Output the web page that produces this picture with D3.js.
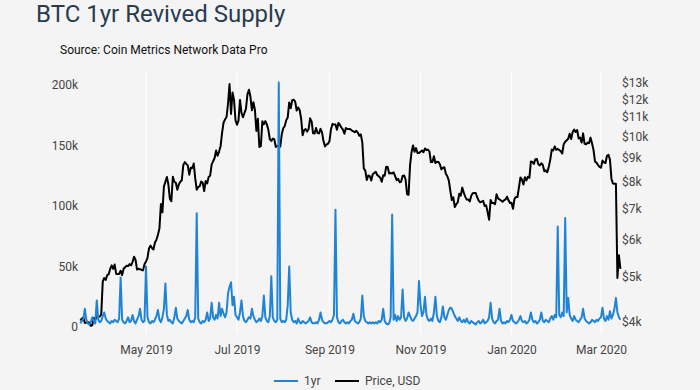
<!DOCTYPE html>
<html>
<head>
<meta charset="utf-8">
<script src="https://cdn.jsdelivr.net/npm/d3@7"></script>
<style>
  html, body { margin: 0; padding: 0; background: #f4f4f4; }
  svg { display: block; font-family: Roboto, "Noto Sans", sans-serif; }
</style>
</head>
<body>
<svg id="chart" width="700" height="390"></svg>
<script>
// ---------------- DATA ----------------
const startDate = "2019-03-18"; // first daily observation
const titleText = "BTC 1yr Revived Supply";
const sourceText = "Source: Coin Metrics Network Data Pro";
const seriesNames = ["1yr", "Price, USD"];

// daily BTC price (USD)
const priceMar19 = [4030, 4070, 4090, 3980, 3990, 3995, 3990, 3925, 3940, 4080, 4050, 4110, 4105, 4110];
const priceApr19 = [4150, 4880, 4970, 4920, 5040, 5060, 5200, 5290, 5200, 5310, 5070, 5070, 5070, 5150, 5040, 5200, 5240, 5280, 5270, 5320, 5290, 5380, 5520, 5430, 5180, 5200, 5190, 5170, 5160, 5320];
const priceMay19 = [5390, 5490, 5750, 5830, 5760, 5720, 5920, 6000, 6150, 6340, 7160, 6870, 7800, 7990, 8180, 7880, 7340, 7260, 8190, 7990, 7950, 7680, 7880, 7990, 8050, 8670, 8800, 8720, 8660, 8270, 8560];
const priceJun19 = [8550, 8740, 8120, 7680, 7790, 7810, 8000, 7950, 7630, 8020, 7920, 8180, 8230, 8690, 8840, 8980, 9320, 9080, 9270, 9520, 10160, 10700, 10860, 11000, 11750, 12930, 11160, 12410, 11960, 10820];
const priceJul19 = [10580, 10800, 11960, 11220, 10980, 11210, 11450, 12290, 12570, 12160, 11360, 11820, 11390, 10260, 10900, 9480, 9530, 10770, 10600, 10770, 10600, 10330, 9850, 9770, 9880, 9850, 9480, 9530, 9530, 9500, 10090];
const priceAug19 = [10400, 10520, 10820, 10970, 11810, 11480, 11940, 11970, 11860, 11350, 11520, 11380, 10900, 10050, 10310, 10360, 10230, 10350, 10920, 10760, 10140, 10130, 10410, 10160, 10140, 10370, 10190, 9750, 9510, 9600, 9630];
const priceSep19 = [9760, 10350, 10620, 10590, 10590, 10320, 10680, 10570, 10440, 10330, 10120, 10410, 10360, 10360, 10350, 10280, 10240, 10200, 10270, 10180, 10020, 10090, 9700, 8530, 8440, 8060, 8240, 8210, 8040, 8290];
const priceOct19 = [8340, 8390, 8260, 8210, 8150, 7990, 8250, 8230, 8600, 8590, 8320, 8340, 8320, 8370, 8210, 8050, 8100, 7970, 7990, 8220, 8240, 8080, 7510, 7490, 8660, 9240, 9550, 9260, 9430, 9210, 9200];
const priceNov19 = [9260, 9320, 9240, 9410, 9340, 9360, 9270, 8800, 8810, 9060, 8760, 8820, 8810, 8710, 8490, 8550, 8580, 8310, 8210, 8030, 7640, 7300, 7400, 7050, 7150, 7220, 7530, 7460, 7760, 7570];
const priceDec19 = [7420, 7320, 7320, 7250, 7450, 7550, 7560, 7560, 7400, 7280, 7220, 7240, 7270, 7090, 7110, 6880, 6620, 7300, 7190, 7190, 7150, 7510, 7360, 7320, 7280, 7240, 7290, 7320, 7420, 7290, 7190];
const priceJan20 = [7200, 6990, 7340, 7410, 7410, 7770, 8160, 8080, 7880, 8170, 8040, 8190, 8140, 8830, 8810, 8720, 8930, 8940, 8710, 8660, 8750, 8680, 8410, 8450, 8370, 8600, 8910, 9360, 9320, 9510, 9350];
const priceFeb20 = [9390, 9340, 9290, 9180, 9610, 9730, 9800, 9870, 10120, 9860, 10210, 10330, 10210, 10310, 9890, 9930, 9690, 10140, 9630, 9610, 9690, 9660, 9930, 9650, 9340, 8820, 8780, 8670, 8600];
const priceMar20 = [8560, 8870, 8790, 8760, 9080, 9120, 8910, 8110, 7920, 7910, 7910, 4970, 5560, 5200];

// daily 1yr revived supply (BTC)
const revMar19 = [3000, 5000, 7000, 15000, 6000, 3000, 2000, 4000, 8000, 5000, 3000, 22000, 6000, 4000];
const revApr19 = [5000, 9000, 12000, 7000, 5000, 4000, 3000, 5000, 4000, 6000, 5000, 4000, 7000, 41000, 6000, 4000, 3000, 5000, 8000, 4000, 5000, 10000, 5000, 3000, 6000, 9000, 15000, 6000, 4000, 5000];
const revMay19 = [50000, 8000, 4000, 3000, 5000, 4000, 6000, 9000, 14000, 6000, 4000, 8000, 15000, 36000, 10000, 5000, 6000, 4000, 3000, 8000, 16000, 7000, 5000, 4000, 3000, 5000, 7000, 9000, 14000, 6000, 4000];
const revJun19 = [5000, 4000, 8000, 94000, 7000, 4000, 3000, 5000, 4000, 6000, 12000, 5000, 7000, 20000, 8000, 6000, 10000, 7000, 20000, 9000, 15000, 11000, 8000, 12000, 28000, 33000, 37000, 18000, 25000, 10000];
const revJul19 = [8000, 6000, 12000, 22000, 9000, 5000, 4000, 6000, 8000, 7000, 15000, 9000, 6000, 4000, 5000, 7000, 5000, 9000, 26000, 8000, 5000, 4000, 9000, 42000, 8000, 5000, 4000, 6000, 202000, 7000, 4000];
const revAug19 = [5000, 4000, 6000, 18000, 50000, 12000, 6000, 4000, 5000, 3000, 7000, 4000, 3000, 5000, 4000, 3000, 4000, 5000, 8000, 4000, 3000, 3000, 4000, 3000, 6000, 12000, 6000, 4000, 3000, 3000, 4000];
const revSep19 = [5000, 4000, 6000, 10000, 97000, 8000, 4000, 3000, 5000, 6000, 4000, 3000, 4000, 3000, 5000, 6000, 11000, 5000, 4000, 3000, 4000, 7000, 26000, 9000, 5000, 4000, 3000, 4000, 3000, 4000];
const revOct19 = [3000, 4000, 3000, 5000, 4000, 6000, 15000, 5000, 3000, 2000, 3000, 8000, 93000, 6000, 10000, 5000, 9000, 6000, 8000, 31000, 8000, 5000, 7000, 12000, 9000, 6000, 5000, 7000, 9000, 12000, 38000];
const revNov19 = [18000, 9000, 12000, 25000, 10000, 6000, 5000, 7000, 5000, 12000, 25000, 9000, 5000, 4000, 8000, 17000, 8000, 6000, 10000, 14000, 16000, 15000, 12000, 9000, 7000, 5000, 8000, 5000, 4000, 6000];
const revDec19 = [4000, 7000, 4000, 3000, 5000, 4000, 3000, 2000, 4000, 5000, 3000, 4000, 6000, 3000, 4000, 5000, 8000, 20000, 7000, 4000, 3000, 5000, 6000, 15000, 5000, 3000, 4000, 3000, 5000, 4000, 6000];
const revJan20 = [10000, 5000, 4000, 3000, 4000, 6000, 9000, 5000, 4000, 5000, 3000, 4000, 6000, 12000, 6000, 4000, 5000, 3000, 4000, 6000, 12000, 5000, 4000, 6000, 5000, 4000, 7000, 9000, 6000, 10000, 8000];
const revFeb20 = [83000, 10000, 8000, 12000, 9000, 90000, 12000, 24000, 10000, 7000, 5000, 9000, 6000, 5000, 4000, 6000, 8000, 15000, 7000, 5000, 4000, 3000, 4000, 6000, 5000, 4000, 6000, 5000, 7000];
const revMar20 = [8000, 16000, 7000, 5000, 9000, 6000, 13000, 7000, 10000, 15000, 24000, 12000, 8000, 6000];

// axis ticks
const supplyTicks = [0, 50000, 100000, 150000, 200000];
const priceTicks = [4000, 5000, 6000, 7000, 8000, 9000, 10000, 11000, 12000, 13000];
const dateTicks = ["2019-05-01", "2019-07-01", "2019-09-01", "2019-11-01", "2020-01-01", "2020-03-01"];

// ---------------- BUILD ----------------
const priceAll = [].concat(priceMar19, priceApr19, priceMay19, priceJun19, priceJul19, priceAug19,
  priceSep19, priceOct19, priceNov19, priceDec19, priceJan20, priceFeb20, priceMar20);
const revAll = [].concat(revMar19, revApr19, revMay19, revJun19, revJul19, revAug19,
  revSep19, revOct19, revNov19, revDec19, revJan20, revFeb20, revMar20);
const parse = d3.utcParse("%Y-%m-%d");
const d0 = parse(startDate);
const rows = priceAll.map((p, i) => ({ date: d3.utcDay.offset(d0, i), price: p, rev: revAll[i] }));

const svg = d3.select("#chart");
const W = 700, H = 390;
svg.append("rect").attr("width", W).attr("height", H).attr("fill", "#f4f4f4");

const x = d3.scaleUtc().domain([parse(dateTicks[0]), parse(dateTicks[5])]).range([146, 601]);
const ySup = d3.scaleLinear().domain([0, 200000]).range([327, 85]);
const yPrice = d3.scaleLog().domain([4000, 13000]).range([322, 83]);

// gridlines (vertical)
svg.append("g").selectAll("line").data(dateTicks.map(parse)).join("line")
  .attr("x1", d => x(d)).attr("x2", d => x(d))
  .attr("y1", 72).attr("y2", 334)
  .attr("stroke", "#ffffff").attr("stroke-width", 1.2);

// title + source
svg.append("text").attr("x", 36).attr("y", 22).attr("font-size", 24)
  .attr("fill", "#2a3b4f").text(titleText);
svg.append("text").attr("x", 60).attr("y", 54).attr("font-size", 12)
  .attr("fill", "#111").text(sourceText);

// left axis
const fmtSup = d => d === 0 ? "0" : (d / 1000) + "k";
const gL = svg.append("g").attr("transform", "translate(78,0)")
  .call(d3.axisLeft(ySup).tickValues(supplyTicks).tickFormat(fmtSup).tickSize(0).tickPadding(0));
gL.select(".domain").remove();
gL.selectAll("text").attr("font-size", 12).attr("fill", "#444").attr("font-family", "Roboto, sans-serif");

// right axis
const gR = svg.append("g").attr("transform", "translate(622,0)")
  .call(d3.axisRight(yPrice).tickValues(priceTicks).tickFormat(d => "$" + (d / 1000) + "k").tickSize(0).tickPadding(0));
gR.select(".domain").remove();
gR.selectAll("text").attr("font-size", 12).attr("fill", "#444").attr("font-family", "Roboto, sans-serif");

// x axis
const gX = svg.append("g").attr("transform", "translate(0,341)")
  .call(d3.axisBottom(x).tickValues(dateTicks.map(parse)).tickFormat(d3.utcFormat("%b %Y")).tickSize(0).tickPadding(4));
gX.select(".domain").remove();
gX.selectAll("text").attr("font-size", 12).attr("fill", "#444").attr("font-family", "Roboto, sans-serif");

// lines
const priceLine = d3.line().x(d => x(d.date)).y(d => yPrice(d.price));
const revLine = d3.line().x(d => x(d.date)).y(d => ySup(d.rev));

svg.append("path").datum(rows).attr("d", priceLine)
  .attr("fill", "none").attr("stroke", "#000").attr("stroke-width", 2).attr("stroke-linejoin", "round");
svg.append("path").datum(rows).attr("d", revLine)
  .attr("fill", "none").attr("stroke", "#1f84d6").attr("stroke-width", 2).attr("stroke-linejoin", "round");

// legend
const legend = svg.append("g").attr("transform", "translate(0,381)");
const legColors = ["#1f84d6", "#000"];
const legX = [274, 335];
seriesNames.forEach((name, i) => {
  legend.append("line").attr("x1", legX[i]).attr("x2", legX[i] + 24).attr("y1", 0).attr("y2", 0)
    .attr("stroke", legColors[i]).attr("stroke-width", 2);
  legend.append("text").attr("x", legX[i] + 30).attr("y", 4).attr("font-size", 12)
    .attr("fill", "#444").text(name);
});
</script>
</body>
</html>
